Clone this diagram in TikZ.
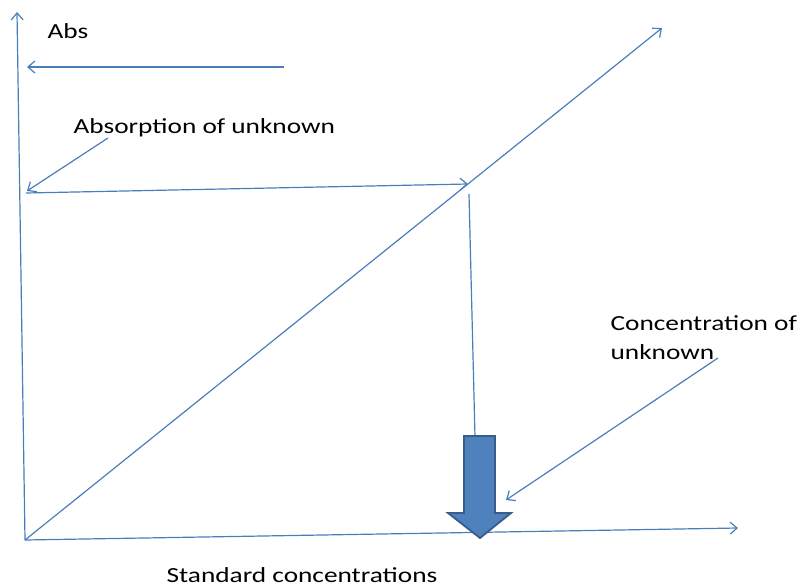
\documentclass[tikz,border=0pt]{standalone}
\usepackage{fontspec}
\setmainfont[FakeStretch=1.27]{Carlito}
\usetikzlibrary{arrows.meta}
\definecolor{lineblue}{RGB}{74,126,187}
\definecolor{fillblue}{RGB}{79,129,189}
\definecolor{edgeblue}{RGB}{56,93,138}

\begin{document}
\begin{tikzpicture}[x=1pt, y=-1pt, line width=1.2pt,
  bluearrow/.style={draw=lineblue, -{Straight Barb[length=7pt,width=12pt]}},
  lbl/.style={anchor=base west, inner sep=0pt, font=\fontsize{21.5}{25}\selectfont}]
  \useasboundingbox (0,0) rectangle (803,586);
  % axes and calibration line
  \coordinate (origin) at (25,540);
  \coordinate (ytop) at (17,12);
  \coordinate (xend) at (738,528);
  \coordinate (diagend) at (662,28);
  \draw[bluearrow] (origin) -- (ytop);
  \draw[bluearrow] (origin) -- (xend);
  \draw[bluearrow] (origin) -- (diagend);
  % labels
  \node[lbl] (abs) at (47,39) {Abs};
  \node[lbl] (absorption) at (73,133) {Absorption of unknown};
  \node[lbl, align=left] (concunknown) at (610,359) {Concentration of\\[4pt]unknown};
  \node[lbl] (stdconc) at (166,582) {Standard concentrations};
  % pointers
  \coordinate (abstail) at (284,67);
  \coordinate (abshead) at (27,67);
  \draw[bluearrow] (abstail) -- (abshead);
  \coordinate (ptrtail) at (108,138);
  \coordinate (ptrhead) at (27,191);
  \draw[bluearrow] (ptrtail) -- (ptrhead);
  \coordinate (yunknown) at (26,193);
  \coordinate (onlinept) at (468,184);
  \draw[bluearrow] (yunknown) -- (onlinept);
  \coordinate (droptop) at (469,194);
  \coordinate (dropend) at (475,437);
  \draw[lineblue] (droptop) -- (dropend);
  \coordinate (conctail) at (718,358);
  \coordinate (conchead) at (506,500);
  \draw[bluearrow] (conctail) -- (conchead);
  % block arrow
  \draw[fill=fillblue, draw=edgeblue, line width=1.8pt, line join=miter]
    (464,436) -- (495,436) -- (495,513) -- (511,513) -- (480,538)
    -- (448,513) -- (464,513) -- cycle;
\end{tikzpicture}
\end{document}
